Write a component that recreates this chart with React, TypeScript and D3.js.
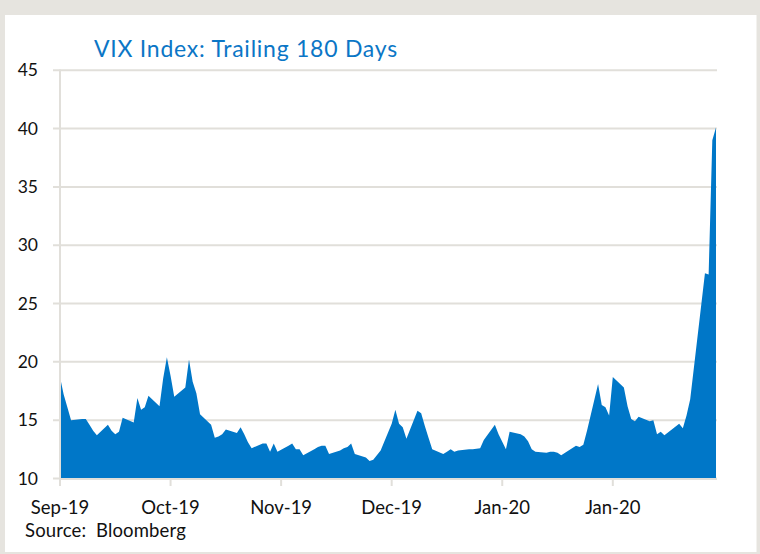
import React from "react";
import * as d3 from "d3";

// trading days, trailing 180 calendar days
const dates: string[] = [
  "2019-09-03", "2019-09-04", "2019-09-05", "2019-09-06",
  "2019-09-09", "2019-09-10", "2019-09-11", "2019-09-12", "2019-09-13",
  "2019-09-16", "2019-09-17", "2019-09-18", "2019-09-19", "2019-09-20",
  "2019-09-23", "2019-09-24", "2019-09-25", "2019-09-26", "2019-09-27",
  "2019-09-30", "2019-10-01", "2019-10-02", "2019-10-03", "2019-10-04",
  "2019-10-07", "2019-10-08", "2019-10-09", "2019-10-10", "2019-10-11",
  "2019-10-14", "2019-10-15", "2019-10-16", "2019-10-17", "2019-10-18",
  "2019-10-21", "2019-10-22", "2019-10-23", "2019-10-24", "2019-10-25",
  "2019-10-28", "2019-10-29", "2019-10-30", "2019-10-31", "2019-11-01",
  "2019-11-04", "2019-11-05", "2019-11-06", "2019-11-07", "2019-11-08",
  "2019-11-11", "2019-11-12", "2019-11-13", "2019-11-14", "2019-11-15",
  "2019-11-18", "2019-11-19", "2019-11-20", "2019-11-21", "2019-11-22",
  "2019-11-25", "2019-11-26", "2019-11-27", "2019-11-29",
  "2019-12-02", "2019-12-03", "2019-12-04", "2019-12-05", "2019-12-06",
  "2019-12-09", "2019-12-10", "2019-12-11", "2019-12-12", "2019-12-13",
  "2019-12-16", "2019-12-17", "2019-12-18", "2019-12-19", "2019-12-20",
  "2019-12-23", "2019-12-24", "2019-12-26", "2019-12-27",
  "2019-12-30", "2019-12-31", "2020-01-02", "2020-01-03",
  "2020-01-06", "2020-01-07", "2020-01-08", "2020-01-09", "2020-01-10",
  "2020-01-13", "2020-01-14", "2020-01-15", "2020-01-16", "2020-01-17",
  "2020-01-21", "2020-01-22", "2020-01-23", "2020-01-24",
  "2020-01-27", "2020-01-28", "2020-01-29", "2020-01-30", "2020-01-31",
  "2020-02-03", "2020-02-04", "2020-02-05", "2020-02-06", "2020-02-07",
  "2020-02-10", "2020-02-11", "2020-02-12", "2020-02-13", "2020-02-14",
  "2020-02-18", "2020-02-19", "2020-02-20", "2020-02-21",
  "2020-02-24", "2020-02-25", "2020-02-26", "2020-02-27", "2020-02-28",
];

const vix: number[] = [
  18.7, 17.2, 16.1, 15.0,
  15.1, 15.1, 14.6, 14.1, 13.7,
  14.6, 14.1, 13.8, 14.0, 15.2,
  14.8, 16.9, 15.9, 16.1, 17.1,
  16.2, 18.6, 20.4, 18.8, 17.0,
  17.8, 20.2, 18.3, 17.3, 15.5,
  14.6, 13.5, 13.6, 13.8, 14.2,
  13.9, 14.4, 13.8, 13.1, 12.6,
  13.0, 13.0, 12.3, 13.0, 12.3,
  12.8, 13.0, 12.5, 12.5, 12.0,
  12.5, 12.7, 12.8, 12.8, 12.1,
  12.4, 12.6, 12.7, 13.0, 12.1,
  11.8, 11.5, 11.6, 12.4,
  14.7, 15.9, 14.7, 14.4, 13.4,
  15.8, 15.6, 14.5, 13.5, 12.5,
  12.1, 12.3, 12.5, 12.3, 12.4,
  12.5, 12.5, 12.6, 13.3,
  14.6, 13.8, 12.5, 14.0,
  13.8, 13.6, 13.2, 12.5, 12.3,
  12.2, 12.3, 12.3, 12.2, 12.0,
  12.8, 12.7, 12.9, 14.1,
  18.1, 16.3, 16.1, 15.4, 18.7,
  17.8, 16.2, 15.1, 14.9, 15.3,
  14.9, 15.0, 13.8, 14.0, 13.7,
  14.7, 14.3, 15.4, 16.8,
  24.9, 27.6, 27.5, 39.0, 40.1,
];

const tickDates: string[] = ["2019-09-03", "2019-10-03", "2019-11-02", "2019-12-02", "2020-01-01", "2020-01-31"];
const yTicks: number[] = [10, 15, 20, 25, 30, 35, 40, 45];

const parse = d3.utcParse("%Y-%m-%d");
const fmt = d3.utcFormat("%b-%y");

const W = 760;
const H = 554;
const font = "Lato, 'Open Sans', sans-serif";
const gridColor = "#e1dfda";

export default function App() {
  const data = dates.map((d, i) => ({ date: parse(d) as Date, value: vix[i] }));

  const x = d3
    .scaleUtc()
    .domain([parse(dates[0]) as Date, parse(dates[dates.length - 1]) as Date])
    .range([60, 716]);
  const y = d3.scaleLinear().domain([10, 45]).range([478.5, 70.3]);

  const area = d3
    .area<{ date: Date; value: number }>()
    .x((d) => x(d.date))
    .y0(y(10))
    .y1((d) => y(d.value));

  return (
    <svg
      width={W}
      height={H}
      style={{ position: "fixed", left: 0, top: 0, display: "block" }}
    >
      {/* frame */}
      <rect x={0} y={0} width={W} height={H} fill="#e6e4df" />
      <rect x={5} y={15} width={751.5} height={537} fill="#ffffff" />

      <text x={94} y={57} fill="#0b76c6" fontFamily={font} fontSize={23} letterSpacing={0.75}>
        VIX Index: Trailing 180 Days
      </text>

      {/* grid */}
      {yTicks.map((t) => (
        <line
          key={t}
          x1={53}
          x2={717}
          y1={y(t)}
          y2={y(t)}
          stroke={gridColor}
          strokeWidth={2}
        />
      ))}
      {yTicks.map((t) => (
        <text
          key={"l" + t}
          x={38}
          y={y(t) + 6}
          textAnchor="end"
          fontFamily={font}
          fontSize={17.5}
          fill="#111"
        >
          {t}
        </text>
      ))}

      <path d={area(data) || ""} fill="#0077c8" />

      {/* axes */}
      <line x1={60} x2={60} y1={69.5} y2={485} stroke={gridColor} strokeWidth={2} />
      <line x1={60} x2={717} y1={479} y2={479} stroke={gridColor} strokeWidth={2} />
      {tickDates.map((d) => {
        const xx = x(parse(d) as Date);
        return (
          <g key={d}>
            <line x1={xx} x2={xx} y1={479} y2={486} stroke={gridColor} strokeWidth={2} />
            <text
              x={xx}
              y={514}
              textAnchor="middle"
              fontFamily={font}
              fontSize={18.5}
              fill="#111"
            >
              {fmt(parse(d) as Date)}
            </text>
          </g>
        );
      })}

      <text x={25} y={537} fontFamily={font} fontSize={18.5} fill="#111" letterSpacing={0.15}>
        {"Source:\u00a0 Bloomberg"}
      </text>
    </svg>
  );
}
